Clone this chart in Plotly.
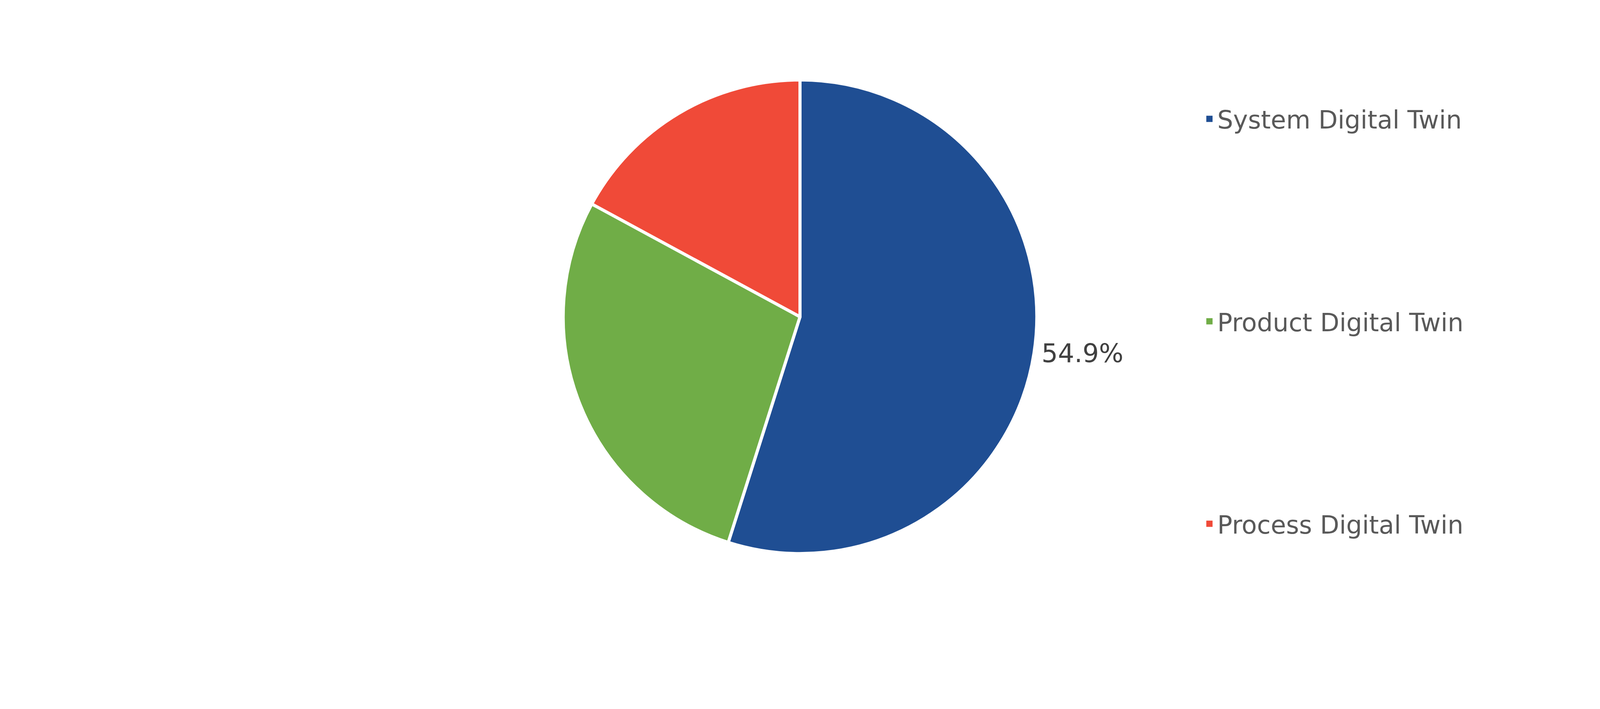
import plotly.graph_objects as go

# slice data
labels = ["System Digital Twin", "Product Digital Twin", "Process Digital Twin"]
shares = [54.9, 28.0, 17.1]
shown_labels = ["54.9%", "", ""]
colors = ["#1F4E93", "#70AD47", "#F04A38"]

# the page is shown in a 4096 px wide viewport (8 px body margin)
W, H = 4080, 1799
FONT = "DejaVu Sans"

# pie: diameter ~67% of height, centred horizontally
d = 0.674 * H
cy = 1 - 810 / 1815
dom_x = [0.5 - d / 2 / W, 0.5 + d / 2 / W]
dom_y = [cy - d / 2 / H, cy + d / 2 / H]

fig = go.Figure()

fig.add_trace(go.Pie(
    labels=labels,
    values=shares,
    text=shown_labels,
    textinfo="text",
    textposition="outside",
    outsidetextfont=dict(family=FONT, size=66, color="#404040"),
    sort=False,
    direction="clockwise",
    rotation=0,
    marker=dict(colors=colors, line=dict(color="white", width=8)),
    domain=dict(x=dom_x, y=dom_y),
    showlegend=False,
    hoverinfo="label+percent",
))

# legend entries, one group each so they can be spaced out like the original
for name, c in zip(labels, colors):
    fig.add_trace(go.Scatter(
        x=[None], y=[None], mode="markers", name=name, legendgroup=name,
        marker=dict(symbol="square", size=16, color=c),
    ))

fig.update_layout(
    width=W, height=H,
    paper_bgcolor="white", plot_bgcolor="white",
    margin=dict(l=0, r=0, t=0, b=0),
    xaxis=dict(visible=False), yaxis=dict(visible=False),
    legend=dict(
        x=0.752, y=0.862, xanchor="left", yanchor="top",
        font=dict(family=FONT, size=64, color="#595959"),
        tracegroupgap=432, itemwidth=30,
        bgcolor="rgba(0,0,0,0)",
    ),
    font=dict(family=FONT),
)

fig.write_html("out.html")
